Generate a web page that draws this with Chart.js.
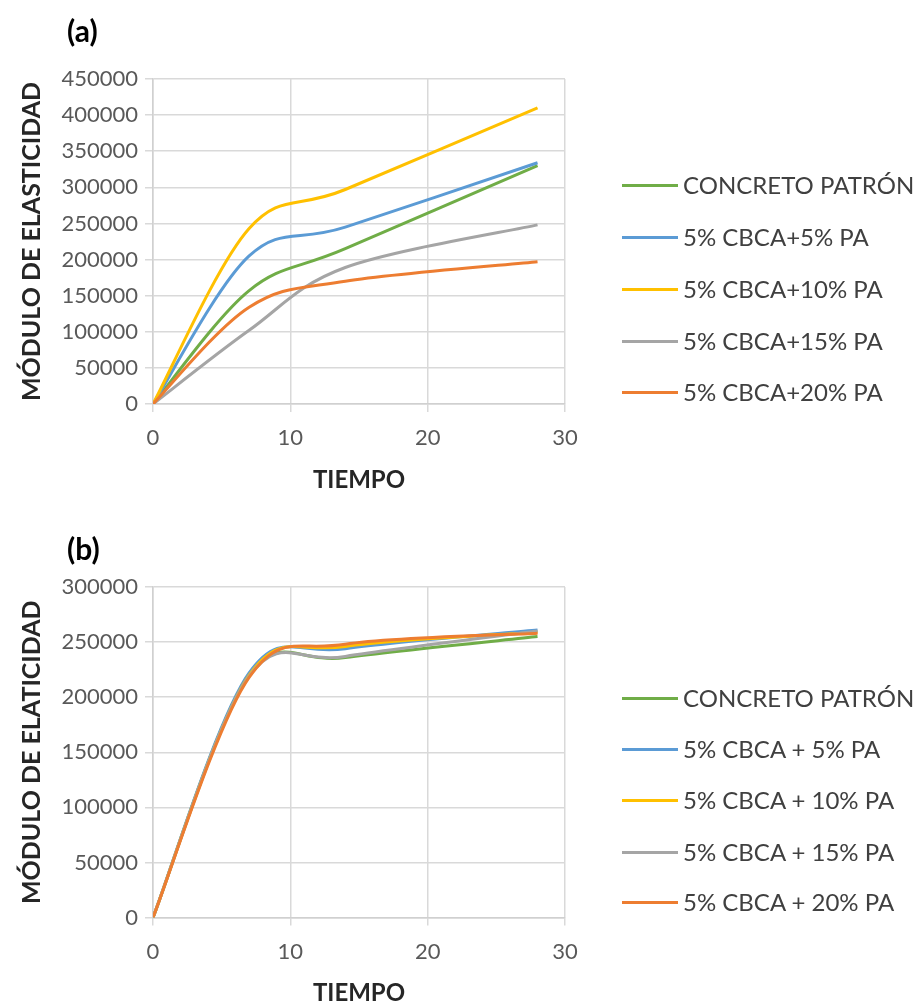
<!DOCTYPE html>
<html>
<head>
<meta charset="utf-8">
<script src="https://cdn.jsdelivr.net/npm/chart.js@4.4.0/dist/chart.umd.min.js"></script>
<style>
body { margin:0; background:#fff; width:922px; height:1005px; position:relative; overflow:hidden; font-family: Lato, 'Open Sans', sans-serif; }
.panel { position:absolute; left:0; }
.tag { position:absolute; font-weight:bold; font-size:30px; color:#000; line-height:36px; }
.ley { position:absolute; left:622px; height:30px; display:flex; align-items:center; }
.ley i { display:block; width:56px; height:3px; margin-right:5px; }
.ley span { font-size:24px; color:#404040; line-height:30px; white-space:nowrap; }
</style>
</head>
<body>
<canvas id="grafA" width="922" height="505" class="panel" style="top:0"></canvas>
<canvas id="grafB" width="922" height="500" class="panel" style="top:505px"></canvas>
<div class="tag" style="left:67px;top:12px">(a)</div>
<div class="tag" style="left:67px;top:530px">(b)</div>
<div id="leyA"></div>
<div id="leyB"></div>
<script>
// dias de curado
const dias = [0, 7, 14, 28];
const ticksX = [0, 10, 20, 30];
const ticksYA = [0, 50000, 100000, 150000, 200000, 250000, 300000, 350000, 400000, 450000];
const ticksYB = [0, 50000, 100000, 150000, 200000, 250000, 300000];

const nombresA = ['CONCRETO PATRÓN', '5% CBCA+5% PA', '5% CBCA+10% PA', '5% CBCA+15% PA', '5% CBCA+20% PA'];
const nombresB = ['CONCRETO PATRÓN', '5% CBCA + 5% PA', '5% CBCA + 10% PA', '5% CBCA + 15% PA', '5% CBCA + 20% PA'];

// grafica (a)
const patronA = [0, 157000, 215000, 330000];
const pa5A = [0, 205000, 245000, 334000];
const pa10A = [0, 243000, 297000, 410000];
const pa15A = [0, 102000, 189000, 248000];
const pa20A = [0, 134000, 170000, 197000];

// grafica (b)
const patronB = [0, 220000, 236000, 255000];
const pa5B = [0, 222000, 244000, 261000];
const pa10B = [0, 220000, 246000, 259000];
const pa15B = [0, 219000, 237000, 260000];
const pa20B = [0, 218000, 248000, 258000];

const colores = ['#70AD47', '#5B9BD5', '#FFC000', '#A5A5A5', '#ED7D31'];

Chart.defaults.font.family = "Lato, 'Open Sans', sans-serif";

// curvas suavizadas como en Excel (control = vecinos / 6)
const suavizadoExcel = {
  id: 'suavizadoExcel',
  beforeDatasetDraw(chart, args) {
    const meta = args.meta;
    meta.dataset.updateControlPoints(chart.chartArea, 'x');
    const pts = meta.data;
    pts.forEach((p, i) => {
      const a = pts[Math.max(i - 1, 0)];
      const b = pts[Math.min(i + 1, pts.length - 1)];
      const dx = (b.x - a.x) / 6, dy = (b.y - a.y) / 6;
      p.cp1x = p.x - dx; p.cp1y = p.y - dy;
      p.cp2x = p.x + dx; p.cp2y = p.y + dy;
    });
  }
};

function hacerGrafica(id, series, nombres, ticksY, tituloY, alto, arriba, abajo, padX) {
  return new Chart(document.getElementById(id), {
    type: 'line',
    data: {
      datasets: series.map((s, i) => ({
        label: nombres[i],
        data: dias.map((d, j) => ({ x: d, y: s[j] })),
        borderColor: colores[i],
        backgroundColor: colores[i],
        borderWidth: 3,
        pointRadius: 0,
        tension: 0.4,
        fill: false,
        order: series.length - i
      }))
    },
    options: {
      responsive: false,
      animation: false,
      devicePixelRatio: 1,
      layout: { padding: { top: arriba, right: 357, left: 0, bottom: 0 } },
      plugins: { legend: { display: false }, tooltip: { enabled: false } },
      scales: {
        x: {
          type: 'linear',
          min: ticksX[0],
          max: ticksX[ticksX.length - 1],
          afterBuildTicks: s => { s.ticks = ticksX.map(v => ({ value: v })); },
          ticks: { padding: 13, color: '#595959', font: { size: 22 }, callback: v => String(v) },
          grid: { color: '#d9d9d9', lineWidth: 1.5, tickLength: 8 },
          border: { color: '#d0d0d0', width: 1.5 },
          title: { display: true, text: 'TIEMPO', color: '#262626', font: { size: 24, weight: 'bold', lineHeight: 1 }, padding: { top: 0, bottom: padX } },
          afterFit: s => { s.height = alto - abajo; s.paddingLeft = 0; s.paddingRight = 0; }
        },
        y: {
          type: 'linear',
          min: ticksY[0],
          max: ticksY[ticksY.length - 1],
          afterBuildTicks: s => { s.ticks = ticksY.map(v => ({ value: v })); },
          ticks: { padding: 7, color: '#595959', font: { size: 22 }, callback: v => String(v) },
          grid: { color: '#d9d9d9', lineWidth: 1.5, tickLength: 8 },
          border: { color: '#d0d0d0', width: 1.5 },
          title: { display: true, text: tituloY, color: '#262626', font: { size: 25, weight: 'bold', lineHeight: 1.2 }, padding: { top: 17, bottom: 0 } },
          afterFit: s => { s.width = 153; s.paddingTop = 0; s.paddingBottom = 0; }
        }
      }
    },
    plugins: [suavizadoExcel]
  });
}

function hacerLeyenda(id, nombres, centros) {
  const caja = document.getElementById(id);
  nombres.forEach((n, i) => {
    const fila = document.createElement('div');
    fila.className = 'ley';
    fila.style.top = (centros[i] - 15) + 'px';
    fila.innerHTML = '<i style="background:' + colores[i] + '"></i><span>' + n + '</span>';
    caja.appendChild(fila);
  });
}

hacerGrafica('grafA', [patronA, pa5A, pa10A, pa15A, pa20A], nombresA, ticksYA, 'MÓDULO DE ELASTICIDAD', 505, 79, 404, 13);
hacerGrafica('grafB', [patronB, pa5B, pa10B, pa15B, pa20B], nombresB, ticksYB, 'MÓDULO DE ELATICIDAD', 500, 82, 412.5, 0);

hacerLeyenda('leyA', nombresA, [185, 237, 289, 341, 392]);
hacerLeyenda('leyB', nombresB, [698, 749, 800, 852, 902]);
</script>
</body>
</html>
